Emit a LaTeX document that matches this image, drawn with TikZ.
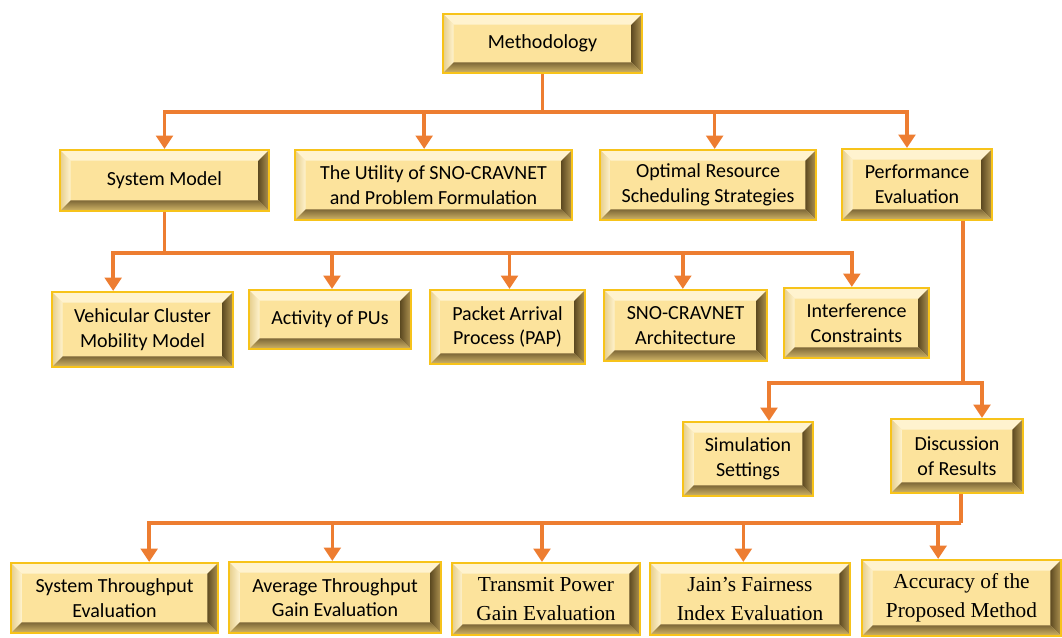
\documentclass[tikz,border=0pt]{standalone}
\usepackage{fontspec}
\setmainfont{Carlito}
\newfontfamily\antfont{Liberation Serif}
\usepackage{xcolor}
\usepackage{tikz}
\usetikzlibrary{positioning, arrows.meta, calc}
\definecolor{bGold}{HTML}{F7C31A}
\definecolor{bFace}{HTML}{FCE39C}
\definecolor{bTop}{HTML}{FFF3CF}
\definecolor{bLeft}{HTML}{F3DC9A}
\definecolor{bDark}{HTML}{5E4B22}
\definecolor{bMid}{HTML}{B09452}
\definecolor{bBrown}{HTML}{7E6838}
\definecolor{bTan}{HTML}{D3B768}
\definecolor{bOrange}{HTML}{ED7D31}
\newcommand\boxfont{\fontsize{15pt}{18.5pt}\selectfont}
\newcommand\serifbox{\antfont\fontsize{16pt}{21.5pt}\selectfont}

\tikzset{
  bevelbox/.style={draw=bGold, line width=1.6pt, fill=bFace, align=center, font=\boxfont, inner sep=2pt,
    path picture={
      \coordinate (bbl) at (path picture bounding box.south west);
      \coordinate (btr) at (path picture bounding box.north east);
      \coordinate (bil) at ([shift={(8pt,8pt)}]bbl);
      \coordinate (bir) at ([shift={(-8pt,-8pt)}]btr);
      \fill[bTop] (bbl |- btr) -- (btr) -- (bir) -- (bil |- bir) -- cycle;
      \shade[left color=bLeft!80!bMid, right color=bTop] (bbl) -- (bbl |- btr) -- (bil |- bir) -- (bil) -- cycle;
      \shade[left color=bDark, right color=bMid] (btr) -- (btr |- bbl) -- (bir |- bil) -- (bir) -- cycle;
      \shade[top color=bBrown, bottom color=bTan] (bbl) -- (btr |- bbl) -- (bir |- bil) -- (bil) -- cycle;
    }},
  link/.style={draw=bOrange, line width=2.6pt},
  conn/.style={link, -{Triangle[width=12.5pt,length=10pt]}},
}

\begin{document}
\begin{tikzpicture}[x=0.75pt, y=-0.75pt]
  \useasboundingbox (0,0) rectangle (1062,637);

  \node[bevelbox, minimum width=149.25pt, minimum height=44.25pt] (meth) at (542.5,43.5) {Methodology};

  \node[bevelbox, minimum width=156.75pt, minimum height=45.75pt] (sysm) at (164.5,180.5) {System Model};
  \node[bevelbox, minimum width=207.75pt, minimum height=52.5pt] (util) at (433.5,185) {The Utility of SNO-CRAVNET\\and Problem Formulation};
  \node[bevelbox, minimum width=162pt, minimum height=52.5pt] (optim) at (708,185) {Optimal Resource\\Scheduling Strategies};
  \node[bevelbox, minimum width=112.5pt, minimum height=53.25pt] (perf) at (917,184.5) {Performance\\Evaluation};

  \node[bevelbox, minimum width=135.75pt, minimum height=56.25pt] (vcm) at (142.5,329.5) {Vehicular Cluster\\Mobility Model};
  \node[bevelbox, minimum width=121.5pt, minimum height=44.25pt] (pus) at (330,319.5) {Activity of PUs};
  \node[bevelbox, minimum width=116.25pt, minimum height=55.5pt] (pap) at (507.5,327) {Packet Arrival\\Process (PAP)};
  \node[bevelbox, minimum width=122.25pt, minimum height=53.25pt] (arch) at (685.5,325.5) {SNO-CRAVNET\\Architecture};
  \node[bevelbox, minimum width=108.75pt, minimum height=52.5pt] (intf) at (856.5,323) {Interference\\Constraints};

  \node[bevelbox, minimum width=97.5pt, minimum height=55.5pt] (sims) at (748,459) {Simulation\\Settings};
  \node[bevelbox, minimum width=99pt, minimum height=55.5pt] (disc) at (957,456) {Discussion\\of Results};

  \node[bevelbox, minimum width=155.25pt, minimum height=52.5pt] (thr) at (114.5,598) {System Throughput\\Evaluation};
  \node[bevelbox, minimum width=159pt, minimum height=53.25pt] (avg) at (335,597.5) {Average Throughput\\Gain Evaluation};
  \node[bevelbox, font=\serifbox, minimum width=141pt, minimum height=54pt] (tpg) at (546,599) {Transmit Power\\Gain Evaluation};
  \node[bevelbox, font=\serifbox, minimum width=150pt, minimum height=54pt] (jfi) at (750,599) {Jain’s Fairness\\Index Evaluation};
  \node[bevelbox, font=\serifbox, minimum width=149.25pt, minimum height=57pt] (acc) at (961.5,598) {Accuracy of the\\Proposed Method};

  \coordinate (hub1) at (meth.south |- 0,112);
  \draw[link] (meth.south) -- (hub1);
  \draw[conn] (hub1) -| (sysm.north);
  \draw[conn] (hub1) -| ([xshift=-7pt]util.north);
  \draw[conn] (hub1) -| ([xshift=5pt]optim.north);
  \draw[conn] (hub1) -| ([xshift=-7.5pt]perf.north);

  \coordinate (hub2) at (sysm.south |- 0,253);
  \draw[link] (sysm.south) -- (hub2);
  \draw[conn] (hub2) -| ([xshift=-22pt]vcm.north);
  \draw[conn] (hub2) -| ([xshift=1.5pt]pus.north);
  \draw[conn] (hub2) -| ([xshift=1.5pt]pap.north);
  \draw[conn] (hub2) -| ([xshift=-2pt]arch.north);
  \draw[conn] (hub2) -| ([xshift=-3.5pt]intf.north);

  \coordinate (ptop) at ([xshift=34.5pt]perf.south);
  \coordinate (hub3) at (ptop |- 0,383);
  \draw[link] (ptop) -- (hub3);
  \draw[conn] (hub3) -| ([xshift=15.75pt]sims.north);
  \draw[conn] (hub3) -| ([xshift=18.75pt]disc.north);

  \coordinate (dtop) at ([xshift=3pt]disc.south);
  \coordinate (hub4) at (dtop |- 0,523);
  \draw[link] (dtop) -- (hub4);
  \draw[conn] (hub4) -| ([xshift=26pt]thr.north);
  \draw[conn] (hub4) -| ([xshift=-2pt]avg.north);
  \draw[conn] (hub4) -| ([xshift=-3pt]tpg.north);
  \draw[conn] (hub4) -| ([xshift=-5pt]jfi.north);
  \draw[conn] (hub4) -| ([xshift=-17.5pt]acc.north);
\end{tikzpicture}
\end{document}
